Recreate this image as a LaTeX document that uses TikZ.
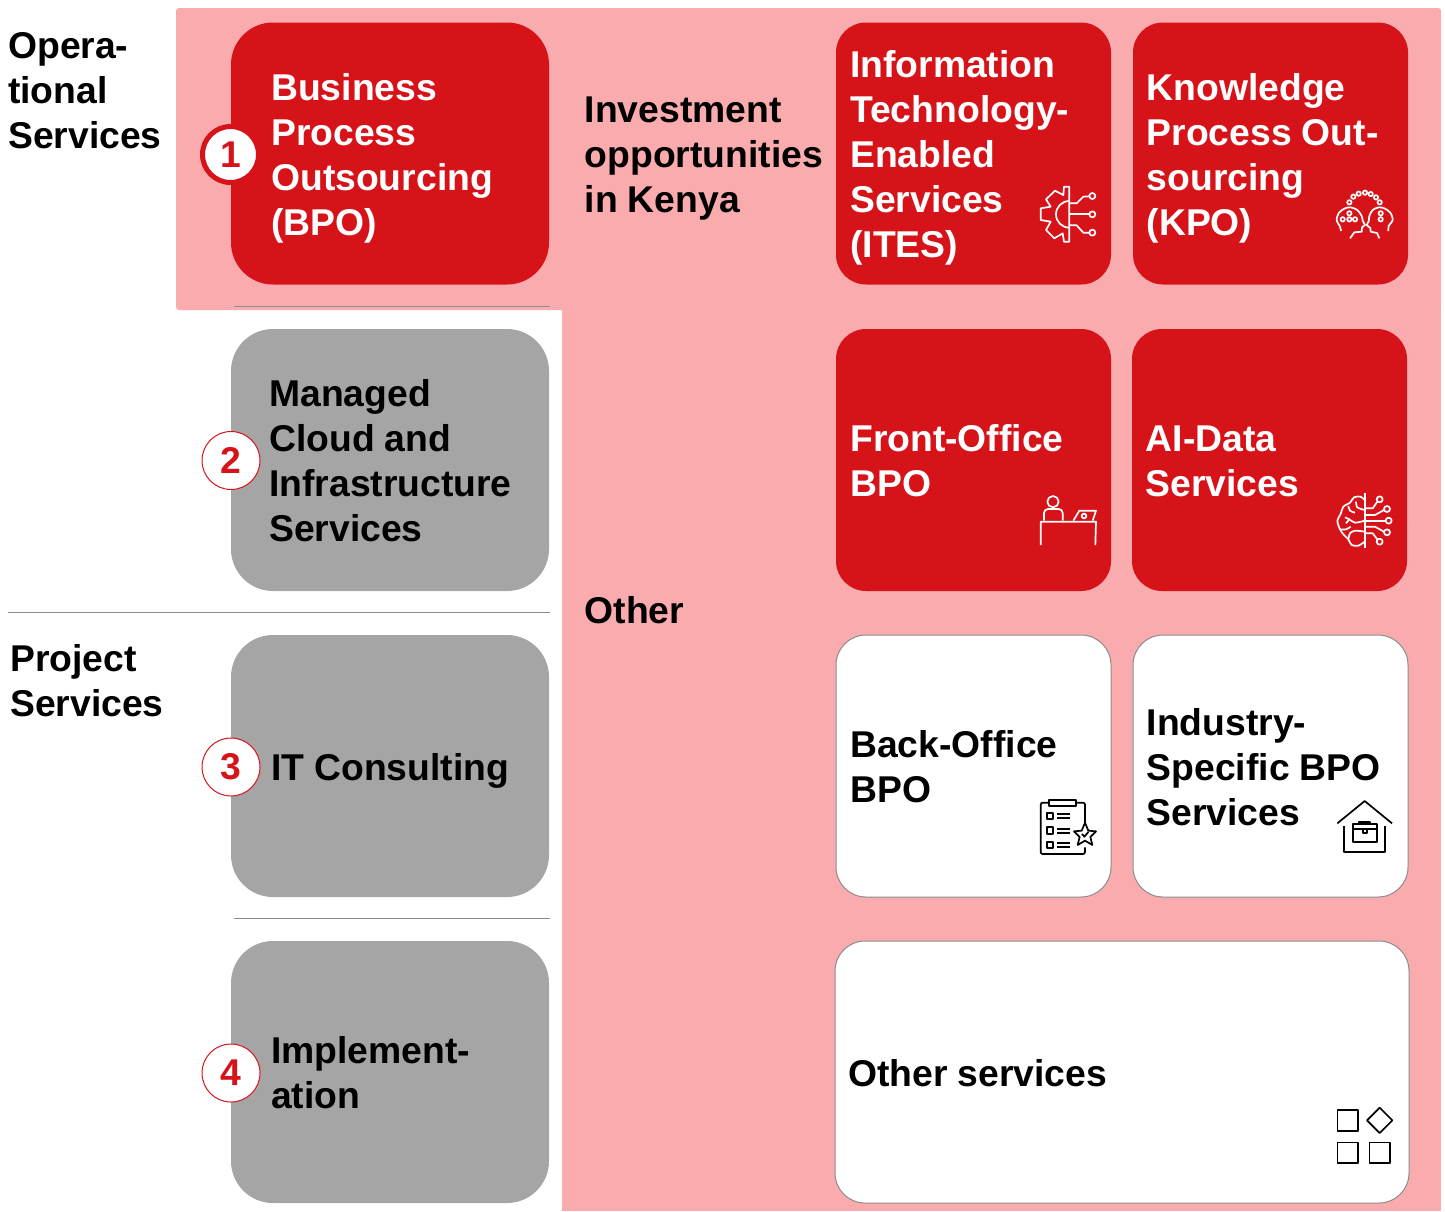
\documentclass[tikz,border=0pt]{standalone}
\usepackage{fontspec}
\setmainfont{Liberation Sans}

\definecolor{kenyared}{HTML}{D7131A}
\definecolor{panelpink}{HTML}{F9ABAD}
\definecolor{cardgrey}{HTML}{A5A5A5}
\definecolor{rulegrey}{HTML}{8C8C8C}

\newcommand{\labelfont}{\fontsize{37.3}{45}\selectfont\bfseries\spaceskip=10pt\relax}

\tikzset{
    card/.style={rounded corners=#1, outer sep=0pt},
    bigcard/.style={card=42pt, minimum width=318pt, minimum height=262pt},
    smallcard/.style={card=30pt, minimum width=275pt, minimum height=262pt},
    redfill/.style={fill=kenyared},
    greyfill/.style={fill=cardgrey},
    whitefill/.style={fill=white, draw=black!45, line width=1pt},
    heading/.style={inner sep=0pt, anchor=west, align=left},
    badge/.style={circle, draw=kenyared, fill=white, text=kenyared, minimum size=58pt, inner sep=0pt, line width=1pt},
    divider/.style={draw=rulegrey, line width=1pt},
    iconline/.style={line width=1.7pt, line join=round}
}

\begin{document}
\begin{tikzpicture}[x=1pt, y=-1pt, font=\labelfont]
    \useasboundingbox (0,0) rectangle (1445,1211);

    % pink panel
    \fill [panelpink, rounded corners=3pt] (176,310) -- (176,8) -- (1441,8) -- (1441,310) -- cycle;
    \fill [panelpink] (562,300) rectangle (1441,1211);

    % dividers
    \draw [divider] (234,306.5) -- (550,306.5);
    \draw [divider] (8,612.5) -- (550,612.5);
    \draw [divider] (234,918.5) -- (550,918.5);

    % left column
    \node (operational) [heading] at (8,91) {Opera-\\tional\\Services};
    \node (project) [heading] at (10,681) {Project\\Services};

    \node (bpo) [bigcard, redfill] at (390,153.5) {};
    \node (cloud) [bigcard, greyfill] at (390,460) {};
    \node (consulting) [bigcard, greyfill] at (390,766) {};
    \node (implementation) [bigcard, greyfill] at (390,1072) {};

    \node (bpotext) [heading, white] at (271,158.5) {Business\\Process\\Outsourcing\\(BPO)};
    \node (cloudtext) [heading] at (269,460.5) {Managed\\Cloud and\\Infrastructure\\Services};
    \node (consultingtext) [heading] at (271,770.5) {IT Consulting};
    \node (implementationtext) [heading] at (271,1073) {Implement-\\ation};

    \node (one) [badge, line width=5pt, minimum size=56pt] at (230.5,154.5) {1};
    \node (two) [badge] at (231,460.5) {2};
    \node (three) [badge] at (231,767) {3};
    \node (four) [badge] at (231,1073) {4};

    % middle column
    \node (investment) [heading] at (584.5,159) {Investment\\opportunities\\in Kenya};
    \node (other) [heading] at (584.5,610) {Other};

    % right column
    \node (ites) [smallcard, redfill] at (973.5,153.5) {};
    \node (kpo) [smallcard, redfill] at (1270.5,153.5) {};
    \node (front) [smallcard, redfill] at (973.5,460) {};
    \node (aidata) [smallcard, redfill] at (1269.5,460) {};
    \node (back) [smallcard, whitefill] at (973.5,766) {};
    \node (industry) [smallcard, whitefill] at (1270.5,766) {};
    \node (others) [smallcard, whitefill, minimum width=574pt] at (1122,1072) {};

    \node (itestext) [heading, white] at (850,158) {Information\\Technology-\\Enabled\\Services\\(ITES)};
    \node (kpotext) [heading, white] at (1146.5,158.5) {Knowledge\\Process Out-\\sourcing\\(KPO)};
    \node (fronttext) [heading, white] at (850,460.5) {Front-Office\\BPO};
    \node (aidatatext) [heading, white] at (1145.5,461) {AI-Data\\Services};
    \node (backtext) [heading] at (850,766.5) {Back-Office\\BPO};
    \node (industrytext) [heading] at (1146.5,767.5) {Industry-\\Specific BPO\\Services};
    \node (otherstext) [heading] at (848,1073.5) {Other services};

    % gear icon
    \begin{scope}[shift={(1020,170)}, scale=1/3, draw=white, iconline]
        \draw (148,50) -- (132,50) -- (130,75) -- (105,62) -- (78,88) -- (92,110) -- (62,115) -- (62,150)
            -- (92,155) -- (78,180) -- (103,205) -- (128,190) -- (132,215) -- (148,215) -- cycle;
        \draw (148,93) arc (270:90:40);
        \draw (148,133) -- (208,133);
        \draw (148,100) -- (170,100) -- (190,80) -- (208,79);
        \draw (148,166) -- (170,166) -- (190,188) -- (208,188);
        \draw (217,78) circle (9);
        \draw (217,133) circle (9);
        \draw (217,188) circle (9);
    \end{scope}

    % two heads icon
    \begin{scope}[shift={(1020,170)}, scale=1/3, draw=white, iconline]
        \draw plot [smooth] coordinates {(963,183) (960,170) (950,150) (957,128) (975,115) (992,112) (1012,120) (1025,138) (1028,152)};
        \draw (1028,152) -- (1035,165) -- (1026,172) -- (1025,185) -- (1003,187) -- (990,205);
        \draw plot [smooth] coordinates {(1105,183) (1106,168) (1118,150) (1111,128) (1093,115) (1076,112) (1058,120) (1048,138) (1047,152)};
        \draw (1047,152) -- (1040,165) -- (1051,174) -- (1052,185) -- (1071,189) -- (1078,205);
        \foreach \px/\py in {988/97,1000/80,1016/71,1035/68,1052/72,1068/82,1079/97,988/130,968/148,988/148,1005/148,1082/130,1082/148}
            \draw (\px,\py) circle (6.5);
    \end{scope}

    % desk icon
    \begin{scope}[shift={(1020,480)}, scale=1/3, draw=white, iconline]
        \draw (99,65) circle (17);
        \draw [rounded corners=4pt] (72,122) -- (72,87) -- (128,87) -- (128,122);
        \draw (62,195) -- (62,125) -- (228,125) -- (226,195);
        \draw (160,122) -- (178,92) -- (228,92) -- (218,122);
        \draw (192,108) circle (7);
    \end{scope}

    % brain icon
    \begin{scope}[shift={(1020,480)}, scale=1/3, draw=white, iconline]
        \draw (1034,40) -- (1034,205);
        \draw plot [smooth] coordinates {(1034,60) (1022,50) (1002,52) (990,68) (970,80) (962,102) (952,122) (960,148) (972,165) (985,178) (995,195) (1015,197) (1034,185)};
        \draw plot [smooth] coordinates {(1034,90) (1012,82) (1008,65)};
        \draw plot [smooth] coordinates {(985,78) (990,92) (1005,98)};
        \draw plot [smooth] coordinates {(1034,122) (1005,128) (988,118) (975,112)};
        \draw (988,118) -- (978,130);
        \draw plot [smooth] coordinates {(1034,155) (1005,152) (990,160) (985,178)};
        \draw plot [smooth] coordinates {(960,148) (978,148) (992,140)};
        \draw (1034,85) -- (1058,85) -- (1072,65);
        \draw (1034,105) -- (1065,105) -- (1092,90);
        \draw (1034,122) -- (1096,122);
        \draw (1034,140) -- (1065,140) -- (1092,155);
        \draw (1034,160) -- (1058,160) -- (1072,178);
        \foreach \px/\py in {1079/58,1101/87,1106/122,1101/157,1079/185}
            \draw (\px,\py) circle (9);
    \end{scope}

    % clipboard icon
    \begin{scope}[shift={(1020,790)}, scale=1/3, draw=black, iconline]
        \draw [rounded corners=2pt] (195,100) -- (195,38) -- (62,38) -- (62,192) -- (195,192) -- (195,172);
        \draw [fill=white] (87,30) rectangle (168,48);
        \foreach \py in {68,112,155} {
            \draw (80,\py) rectangle (100,\py+20);
            \draw (112,\py+4) -- (150,\py+4);
            \draw (112,\py+16) -- (150,\py+16);
        }
        \draw [fill=white] (195,98) -- (205,122) -- (228,124) -- (211,141) -- (217,165) -- (195,152)
            -- (173,165) -- (179,141) -- (162,124) -- (185,122) -- cycle;
        \draw (186,132) -- (193,140) -- (205,126);
    \end{scope}

    % house icon
    \begin{scope}[shift={(1020,790)}, scale=1/3, draw=black, iconline]
        \draw (952,100) -- (1034,33) -- (1116,100);
        \draw (973,108) -- (973,187) -- (1095,187) -- (1095,108);
        \draw [fill=white] (998,103) rectangle (1070,155);
        \draw (1018,103) -- (1018,95) -- (1050,95) -- (1050,103);
        \draw (998,118) -- (1028,118);
        \draw (1040,118) -- (1070,118);
        \draw (1028,118) rectangle (1040,130);
    \end{scope}

    % shapes icon
    \begin{scope}[shift={(1320,1090)}, scale=1/3, draw=black, iconline]
        \draw (52,60) rectangle (113,122);
        \draw (179,53) -- (217,91) -- (179,129) -- (141,91) -- cycle;
        \draw (52,157) rectangle (113,218);
        \draw (148,157) rectangle (210,218);
    \end{scope}
\end{tikzpicture}
\end{document}
